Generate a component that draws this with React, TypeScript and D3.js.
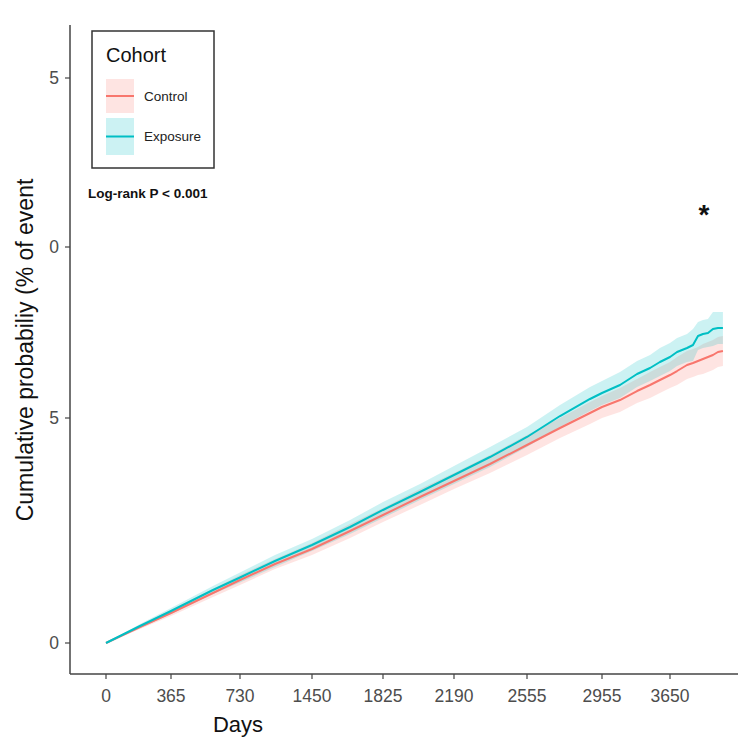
import React from "react";
import * as d3 from "d3";

// ---- data ----
const days = [0, 191, 365, 587, 730, 1080, 1450, 1651, 1825, 2015, 2190, 2370, 2555, 2731, 2891, 2955, 3139, 3313, 3446, 3547, 3650, 3722, 3824, 3885, 3936, 3987, 4038, 4089, 4140, 4191];

const controlEst = [0, 0.356, 0.667, 1.111, 1.4, 1.756, 2.089, 2.489, 2.844, 3.244, 3.6, 3.978, 4.4, 4.778, 5.146, 5.322, 5.526, 5.789, 5.965, 6.111, 6.257, 6.374, 6.55, 6.608, 6.667, 6.725, 6.784, 6.842, 6.93, 6.959];
const controlLo = [0, 0.311, 0.6, 1.022, 1.289, 1.644, 1.956, 2.333, 2.689, 3.067, 3.422, 3.778, 4.178, 4.556, 4.867, 5.0, 5.175, 5.439, 5.585, 5.731, 5.877, 5.965, 6.14, 6.199, 6.257, 6.287, 6.345, 6.404, 6.491, 6.52];
const controlHi = [0, 0.4, 0.733, 1.2, 1.511, 1.867, 2.222, 2.644, 3.0, 3.422, 3.778, 4.178, 4.622, 5.0, 5.468, 5.643, 5.877, 6.14, 6.345, 6.491, 6.637, 6.784, 6.959, 7.018, 7.076, 7.164, 7.222, 7.281, 7.368, 7.398];

const exposureEst = [0, 0.378, 0.711, 1.178, 1.456, 1.822, 2.178, 2.578, 2.956, 3.356, 3.733, 4.133, 4.578, 5.058, 5.556, 5.731, 5.965, 6.287, 6.462, 6.637, 6.784, 6.93, 7.047, 7.135, 7.398, 7.456, 7.485, 7.602, 7.632, 7.632];
const exposureLo = [0, 0.333, 0.644, 1.089, 1.344, 1.689, 2.044, 2.422, 2.778, 3.178, 3.533, 3.911, 4.356, 4.8, 5.205, 5.38, 5.585, 5.906, 6.082, 6.228, 6.374, 6.52, 6.637, 6.667, 6.988, 7.047, 7.076, 7.105, 7.164, 7.164];
const exposureHi = [0, 0.422, 0.778, 1.267, 1.567, 1.956, 2.311, 2.733, 3.133, 3.533, 3.933, 4.356, 4.8, 5.38, 5.906, 6.082, 6.345, 6.667, 6.842, 7.047, 7.193, 7.339, 7.456, 7.602, 7.807, 7.865, 7.895, 8.099, 8.099, 8.099];

const xTickValues = [0, 365, 730, 1450, 1825, 2190, 2555, 2955, 3650];
const xTickLabels = ["0", "365", "730", "1450", "1825", "2190", "2555", "2955", "3650"];
const yTickValues = [0, 5, 10, 15];
const yTickLabels = ["0", "5", "0", "5"];

const seriesNames = ["Control", "Exposure"];
const seriesColors = ["#F8766D", "#00BFC4"];

// ---- layout ----
const X_TICK_PX = [106, 171, 240, 312, 383, 454, 527, 602, 670];
const Y_TICK_PX = [643, 418, 247, 78];
const AXIS_LEFT = 70;
const AXIS_BOTTOM = 674;
const AXIS_TOP = 25;
const AXIS_RIGHT = 738;
const FONT = "'Liberation Sans', Arial, Helvetica, sans-serif";

export default function App() {
  const x = d3.scaleLinear().domain(xTickValues).range(X_TICK_PX);
  const y = d3.scaleLinear().domain(yTickValues).range(Y_TICK_PX);

  const series = [
    { name: seriesNames[0], color: seriesColors[0], est: controlEst, lo: controlLo, hi: controlHi },
    { name: seriesNames[1], color: seriesColors[1], est: exposureEst, lo: exposureLo, hi: exposureHi },
  ];

  const line = (vals: number[]) =>
    d3.line<number>().x((_, i) => x(days[i])).y((d) => y(d))(vals) || "";
  const area = (lo: number[], hi: number[]) =>
    d3
      .area<number>()
      .x((_, i) => x(days[i]))
      .y0((_, i) => y(lo[i]))
      .y1((_, i) => y(hi[i]))(days) || "";

  const axisColor = "#444";
  const tickText = "#4d4d4d";

  return (
    <svg width={750} height={750} style={{ position: "absolute", left: 0, top: 0, background: "#fff" }} fontFamily={FONT}>
      <rect x={0} y={0} width={750} height={750} fill="#fff" />
      {/* bands */}
      {series.map((s) => (
        <path key={s.name + "band"} d={area(s.lo, s.hi)} fill={s.color} fillOpacity={0.2} stroke="none" />
      ))}
      {/* lines */}
      {series.map((s) => (
        <path key={s.name + "line"} d={line(s.est)} fill="none" stroke={s.color} strokeWidth={2} strokeLinejoin="round" />
      ))}

      {/* axes */}
      <line x1={AXIS_LEFT} y1={AXIS_TOP} x2={AXIS_LEFT} y2={AXIS_BOTTOM} stroke={axisColor} strokeWidth={1.5} />
      <line x1={AXIS_LEFT} y1={AXIS_BOTTOM} x2={AXIS_RIGHT} y2={AXIS_BOTTOM} stroke={axisColor} strokeWidth={1.5} />
      {xTickValues.map((v, i) => (
        <g key={"xt" + i}>
          <line x1={x(v)} x2={x(v)} y1={AXIS_BOTTOM} y2={AXIS_BOTTOM + 5} stroke={axisColor} strokeWidth={1.2} />
          <text x={x(v)} y={702} textAnchor="middle" fontSize={17.5} fill={tickText}>
            {xTickLabels[i]}
          </text>
        </g>
      ))}
      {yTickValues.map((v, i) => (
        <g key={"yt" + i}>
          <line x1={AXIS_LEFT - 5} x2={AXIS_LEFT} y1={y(v)} y2={y(v)} stroke={axisColor} strokeWidth={1.2} />
          <text x={59} y={y(v)} dy="0.35em" textAnchor="end" fontSize={17.5} fill={tickText}>
            {yTickLabels[i]}
          </text>
        </g>
      ))}

      {/* axis titles */}
      <text x={238} y={732} textAnchor="middle" fontSize={22} fill="#111">
        Days
      </text>
      <text transform="translate(33,350) rotate(-90)" textAnchor="middle" fontSize={23} fill="#111">
        Cumulative probabiliy (% of event
      </text>

      {/* legend */}
      <rect x={92} y={31} width={122} height={137} fill="#fff" stroke="#333" strokeWidth={1.5} />
      <text x={106} y={62} fontSize={20} fill="#111">
        Cohort
      </text>
      {series.map((s, i) => {
        const top = i === 0 ? 79 : 118;
        const h = i === 0 ? 34 : 37;
        return (
          <g key={"lg" + i}>
            <rect x={106} y={top} width={28} height={h} fill={s.color} fillOpacity={0.2} />
            <line x1={106} x2={134} y1={top + h / 2} y2={top + h / 2} stroke={s.color} strokeWidth={2} />
            <text x={144} y={top + h / 2} dy="0.35em" fontSize={13.5} fill="#222">
              {s.name}
            </text>
          </g>
        );
      })}

      <text x={88} y={193} dy="0.35em" fontSize={13.5} fontWeight="bold" fill="#111">
        Log-rank P {"<"} 0.001
      </text>
      <text x={704} y={224} textAnchor="middle" fontSize={28} fontWeight="bold" fill="#111">
        *
      </text>
    </svg>
  );
}
